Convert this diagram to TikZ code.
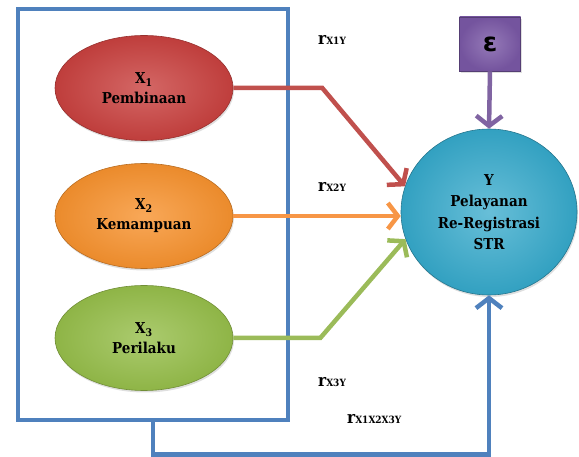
\documentclass[tikz,border=0pt]{standalone}
\usepackage{fontspec}
\setmainfont{DejaVu Serif Condensed}
\newfontfamily\epsfont{DejaVu Sans}
\usetikzlibrary{arrows.meta,shapes.geometric,shadows}
\definecolor{cred}{HTML}{C9413F}
\definecolor{corange}{HTML}{F7922E}
\definecolor{cgreen}{HTML}{96BE4A}
\definecolor{ccyan}{HTML}{35A9CB}
\definecolor{cpurple}{HTML}{7A58A6}
\definecolor{cblue}{HTML}{4F81BD}
\definecolor{ared}{HTML}{C0504D}
\definecolor{aorange}{HTML}{F79646}
\definecolor{agreen}{HTML}{9BBB59}
\definecolor{apurple}{HTML}{8064A2}
\newcommand\rsubtxt[1]{{\fontsize{10}{10}\selectfont #1}}
\begin{document}
\begin{tikzpicture}[x=1pt,y=-1pt,
  oval/.style={ellipse, minimum width=178pt, minimum height=105pt, inner sep=0pt, align=center,
    font=\rmfamily\bfseries\fontsize{15}{20}\selectfont, draw=#1!75!black, line width=0.6pt,
    inner color=#1!80!white, outer color=#1!95!black, drop shadow={opacity=0.25, shadow xshift=1pt, shadow yshift=-2pt}},
  conn/.style={line width=4.5pt, draw=#1, -{Straight Barb[length=10pt,width=26pt]}},
  lbl/.style={font=\rmfamily\bfseries\fontsize{17}{17}\selectfont, inner sep=0pt, anchor=base west}
]
\useasboundingbox (0,0) rectangle (579,457);
\node[draw=cblue, line width=4.5pt, minimum width=270pt, minimum height=411pt, inner sep=0pt] (frame) at (153,214.5) {};
\node[oval=cred] (X1) at (144,88) {X\textsubscript{1}\\Pembinaan};
\node[oval=corange] (X2) at (144,216) {X\textsubscript{2}\\Kemampuan};
\node[oval=cgreen] (X3) at (144,338) {X\textsubscript{3}\\Perilaku};
\node[ellipse, minimum width=176pt, minimum height=166pt, inner sep=0pt, align=center,
  font=\rmfamily\bfseries\fontsize{15}{21.5}\selectfont, draw=ccyan!70!black, line width=0.6pt,
  inner color=ccyan!75!white, outer color=ccyan!95!black,
  drop shadow={opacity=0.25, shadow xshift=1pt, shadow yshift=-2pt}] (Y) at (489,212)
  {Y\\Pelayanan\\Re-Registrasi\\STR};
\node[minimum width=61pt, minimum height=54pt, inner sep=0pt, draw=cpurple!70!black, line width=0.6pt,
  inner color=cpurple!80!white, outer color=cpurple!95!black,
  font=\epsfont\bfseries\fontsize{26}{26}\selectfont,
  drop shadow={opacity=0.25, shadow xshift=1pt, shadow yshift=-2pt}] (eps) at (490,44) {ε};
\draw[conn=ared] (X1.east) -- ++(89,0) -- (Y.163);
\draw[conn=aorange] (X2.east) -- (X2.east -| Y.west);
\draw[conn=agreen] (X3.east) -- ++(87,0) -- (Y.198);
\draw[conn=apurple] (eps.south) -- (Y.north);
\draw[conn=cblue] (frame.south) -- ++(0,32) -| (Y.south);
\node[lbl] (r1) at (318,45) {r\rsubtxt{X1Y}};
\node[lbl] (r2) at (318,192) {r\rsubtxt{X2Y}};
\node[lbl] (r3) at (318,387) {r\rsubtxt{X3Y}};
\node[lbl] (r4) at (347,424) {r\rsubtxt{X1X2X3Y}};
\end{tikzpicture}
\end{document}
